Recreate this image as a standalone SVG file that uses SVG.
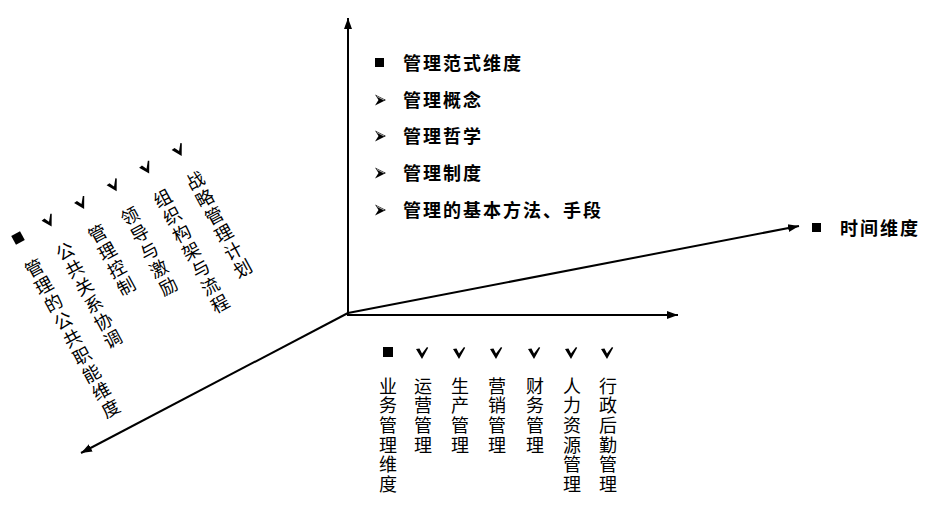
<svg xmlns="http://www.w3.org/2000/svg" width="936" height="526" viewBox="0 0 936 526">
<style>
.ax{stroke:#000;stroke-width:2;fill:none}
.h{font-family:"Noto Sans CJK SC","Noto Sans CJK JP",sans-serif;font-size:18px;font-weight:bold;letter-spacing:2px;fill:#000}
.v{font-family:"Noto Sans CJK SC","Noto Sans CJK JP",sans-serif;font-size:18px;writing-mode:vertical-rl;text-orientation:upright;letter-spacing:1.6px;fill:#000}
.v2{font-family:"Noto Sans CJK SC","Noto Sans CJK JP",sans-serif;font-size:18px;writing-mode:vertical-rl;text-orientation:upright;letter-spacing:2px;fill:#000}
</style>
<defs>
<marker id="arr" markerUnits="userSpaceOnUse" markerWidth="12" markerHeight="10" refX="11" refY="5" orient="auto">
<path d="M0,1 L11,5 L0,9 Z" fill="#000"/>
</marker>
<path id="chk" d="M-6,-4 L-2.5,-4.5 L0,0.5 L5,-6 L6.2,-5.2 L0,6 Z" fill="#000"/>
<g id="arb"><path d="M0,-5.5 L11,0 L0,5.5 L3.5,0 Z" fill="#000"/><path d="M1.8,-3.6 L9,0" stroke="#fff" stroke-width="0.7"/></g>
</defs>

<g id="connectors">
<line class="ax" x1="348" y1="314" x2="348" y2="18" marker-end="url(#arr)"/>
<line class="ax" x1="347" y1="315" x2="678" y2="315" marker-end="url(#arr)"/>
<line class="ax" x1="348" y1="313" x2="799" y2="226" marker-end="url(#arr)"/>
<line class="ax" x1="348" y1="313" x2="81" y2="453" marker-end="url(#arr)"/>
</g>

<g id="paradigm">
<rect x="375" y="58" width="9" height="9" fill="#000"/>
<text class="h" x="403" y="70">管理范式维度</text>
<use href="#arb" x="375" y="100"/>
<text class="h" x="403" y="107">管理概念</text>
<use href="#arb" x="375" y="136"/>
<text class="h" x="403" y="143">管理哲学</text>
<use href="#arb" x="375" y="173"/>
<text class="h" x="403" y="180">管理制度</text>
<use href="#arb" x="375" y="210"/>
<text class="h" x="403" y="217">管理的基本方法、手段</text>
</g>

<g id="time">
<rect x="812" y="223" width="9" height="9" fill="#000"/>
<text class="h" x="840" y="235">时间维度</text>
</g>

<g id="business">
<rect x="383" y="347" width="10" height="10" fill="#000"/>
<use href="#chk" x="422" y="353"/>
<use href="#chk" x="459" y="353"/>
<use href="#chk" x="496" y="353"/>
<use href="#chk" x="534" y="353"/>
<use href="#chk" x="571" y="353"/>
<use href="#chk" x="607" y="353"/>
<text class="v" x="388" y="377">业务管理维度</text>
<text class="v" x="423" y="377">运营管理</text>
<text class="v" x="460" y="377">生产管理</text>
<text class="v" x="497" y="377">营销管理</text>
<text class="v" x="535" y="377">财务管理</text>
<text class="v" x="572" y="377">人力资源管理</text>
<text class="v" x="608" y="377">行政后勤管理</text>
</g>

<g id="public" transform="translate(18,238) rotate(-28.5)">
<rect x="-5" y="-5" width="10" height="10" fill="#000"/>
<use href="#chk" x="35" y="0"/>
<use href="#chk" x="72" y="0"/>
<use href="#chk" x="109" y="0"/>
<use href="#chk" x="146" y="0"/>
<use href="#chk" x="183" y="0"/>
<text class="v2" x="0" y="25">管理的公共职能维度</text>
<text class="v2" x="35" y="25">公共关系协调</text>
<text class="v2" x="72" y="25">管理控制</text>
<text class="v2" x="109" y="25">领导与激励</text>
<text class="v2" x="146" y="25">组织构架与流程</text>
<text class="v2" x="183" y="25">战略管理计划</text>
</g>
</svg>
